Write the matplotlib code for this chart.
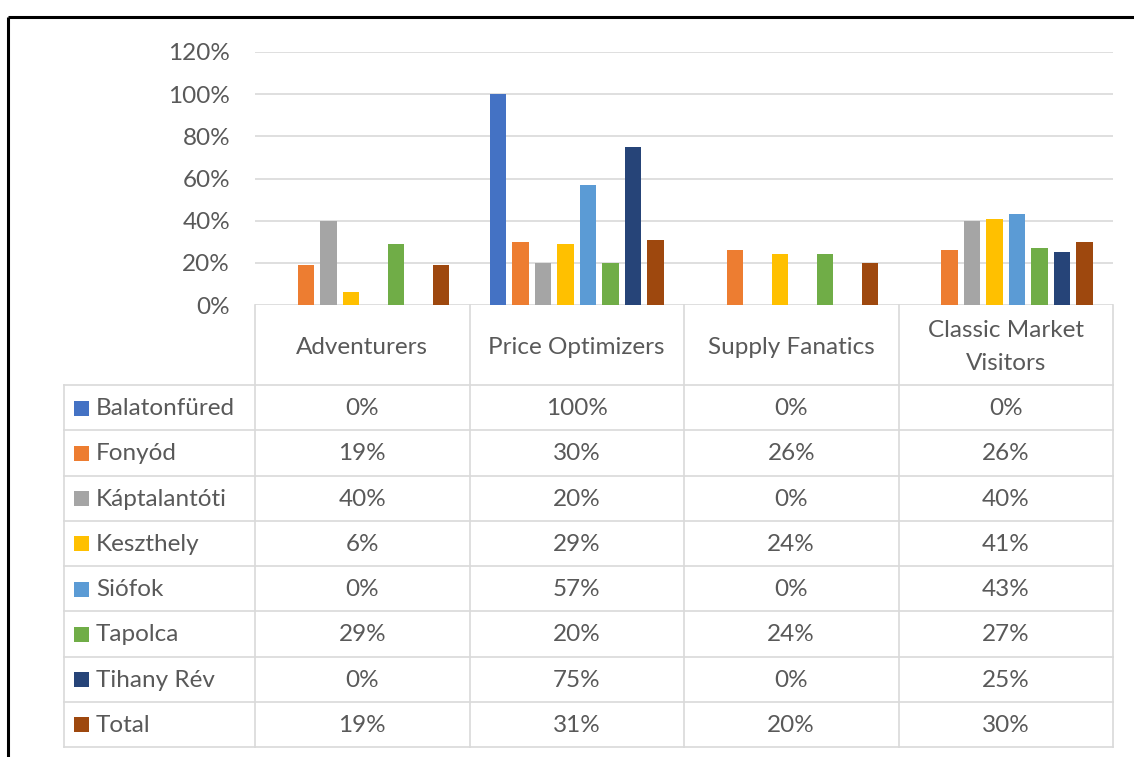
import matplotlib.pyplot as plt
import numpy as np

categories = ['Adventurers', 'Price Optimizers', 'Supply Fanatics', 'Classic Market\nVisitors']
locations = ['Balatonfüred', 'Fonyód', 'Káptalantóti', 'Keszthely',
             'Siófok', 'Tapolca', 'Tihany Rév', 'Total']
balatonfured = [0.00, 1.00, 0.00, 0.00]
fonyod = [0.19, 0.30, 0.26, 0.26]
kaptalantoti = [0.40, 0.20, 0.00, 0.40]
keszthely = [0.06, 0.29, 0.24, 0.41]
siofok = [0.00, 0.57, 0.00, 0.43]
tapolca = [0.29, 0.20, 0.24, 0.27]
tihany_rev = [0.00, 0.75, 0.00, 0.25]
total = [0.19, 0.31, 0.20, 0.30]
series = [balatonfured, fonyod, kaptalantoti, keszthely, siofok, tapolca, tihany_rev, total]
yticks = [0, 0.2, 0.4, 0.6, 0.8, 1.0, 1.2]

colors = ['#4472C4', '#ED7D31', '#A5A5A5', '#FFC000',
          '#5B9BD5', '#70AD47', '#264478', '#9E480E']
text_col = '#595959'
grid_col = '#d9d9d9'
fs = 17.5

plt.rcParams['font.family'] = ['Lato', 'DejaVu Sans']

W, H = 1134, 757
fig = plt.figure(figsize=(W / 100, H / 100), dpi=100, facecolor='white')

# plot area (pixel layout from the reference)
left, right, top, bottom = 255, 1113, 52, 305
ax = fig.add_axes([left / W, 1 - bottom / H, (right - left) / W, (bottom - top) / H])
ax.set_xlim(-0.5, len(categories) - 0.5)
ax.set_ylim(0, 1.2)
for s in ax.spines.values():
    s.set_visible(False)
ax.set_yticks(yticks)
ax.set_yticklabels(['%d%%' % round(v * 100) for v in yticks])
ax.tick_params(axis='y', length=0, pad=18, labelsize=fs, labelcolor=text_col)
ax.set_xticks([])
ax.yaxis.grid(True, color=grid_col, lw=1.2)
ax.set_axisbelow(True)

x = np.arange(len(categories))
pitch = 0.105
for i, vals in enumerate(series):
    ax.bar(x + (i - 3.5) * pitch, vals, width=0.076, color=colors[i], zorder=3)

# data table drawn below the plot area
tab = fig.add_axes([0, 0, 1, 1], facecolor='none')
tab.set_xlim(0, W)
tab.set_ylim(H, 0)
tab.axis('off')

col_edges = left + (right - left) * np.arange(len(categories) + 1) / len(categories)
label_left = 64
head_bottom = 385
row_h = (747 - head_bottom) / len(locations)
line_kw = dict(color=grid_col, lw=1.2)

for xe in col_edges:
    tab.plot([xe, xe], [bottom, head_bottom + row_h * len(locations)], **line_kw)
tab.plot([label_left, label_left], [head_bottom, head_bottom + row_h * len(locations)], **line_kw)
for r in range(len(locations) + 1):
    y = head_bottom + r * row_h
    tab.plot([label_left, right], [y, y], **line_kw)

for c, name in enumerate(categories):
    cx = (col_edges[c] + col_edges[c + 1]) / 2
    tab.text(cx, (bottom + head_bottom) / 2 + 2, name, ha='center', va='center',
             fontsize=fs, color=text_col, linespacing=1.65)

for r, loc in enumerate(locations):
    cy = head_bottom + (r + 0.5) * row_h
    tab.add_patch(plt.Rectangle((74, cy - 7), 15, 15, color=colors[r], lw=0))
    tab.text(96, cy + 1, loc, ha='left', va='center', fontsize=fs, color=text_col)
    for c in range(len(categories)):
        cx = (col_edges[c] + col_edges[c + 1]) / 2
        tab.text(cx, cy + 1, '%d%%' % round(series[r][c] * 100), ha='center',
                 va='center', fontsize=fs, color=text_col)

# black frame at top and left
tab.plot([8, W], [17, 17], color='black', lw=2.2, solid_capstyle='butt')
tab.plot([8, 8], [17, H], color='black', lw=2.2, solid_capstyle='butt')

fig.savefig('out.png', dpi=100)
